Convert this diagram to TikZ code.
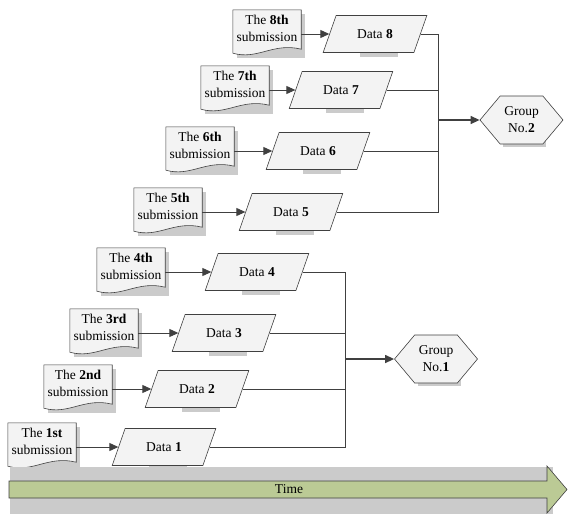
\documentclass[tikz,border=0pt]{standalone}
\usepackage{fontspec}
\setmainfont{Liberation Serif}
\usetikzlibrary{arrows.meta,shapes.geometric,shapes.symbols}

\definecolor{linegray}{HTML}{404040}
\definecolor{shadowgray}{HTML}{CBCBCB}
\definecolor{shapefill}{HTML}{F3F3F3}
\definecolor{timegreen}{HTML}{BBCA95}

\pgfdeclarelayer{shadowlayer}
\pgfdeclarelayer{outline}
\pgfsetlayers{shadowlayer,outline,main}

\tikzset{
  docbox/.style={minimum width=68pt, minimum height=36pt, inner sep=0pt, align=center},
  databox/.style={trapezium, trapezium left angle=66, trapezium right angle=114,
    trapezium stretches=true, minimum width=104pt, minimum height=37pt,
    draw=linegray, fill=shapefill, line width=0.6pt},
  groupbox/.style={signal, signal to=west and east, signal pointer angle=100,
    minimum width=83pt, minimum height=48pt, inner sep=0pt, align=center,
    draw=linegray, fill=shapefill, line width=0.6pt},
  boxshadow/.style={fill=shadowgray},
  flow/.style={draw=linegray, line width=0.9pt},
  flowarrow/.style={flow, -{Triangle[length=9pt,width=8pt]}}
}

\begin{document}
\begin{tikzpicture}[x=1pt,y=-1pt,font=\fontsize{13.5}{17}\selectfont]
\useasboundingbox (0,0) rectangle (569,514);

% submissions and their data
\foreach \n/\dx/\px/\y/\sfx in {8/267/375/34/th, 7/235/341/90/th, 6/200/318/151/th,
    5/168/291/212/th, 4/131/257/272/th, 3/104/224/333/rd, 2/78/197/389/nd, 1/42/164/447/st}{
  \node[docbox] (d\n) at (\dx,\y-6) {The \textbf{\n\sfx}\\submission};
  \node[databox] (p\n) at (\px,\y) {Data \textbf{\n}};
  \begin{pgfonlayer}{outline}
    \draw[draw=linegray, line width=0.6pt, fill=shapefill] (d\n.north west) -- (d\n.north east)
      -- ([yshift=-3pt]d\n.south east)
      .. controls ([xshift=-28pt,yshift=4pt]d\n.south east) and ([xshift=25pt,yshift=-14pt]d\n.south west)
      .. ([yshift=-7pt]d\n.south west) -- cycle;
  \end{pgfonlayer}
  \begin{pgfonlayer}{shadowlayer}
    \fill[boxshadow] ([shift={(4pt,-4pt)}]d\n.north west) rectangle ([shift={(4pt,-12pt)}]d\n.south east);
    \fill[boxshadow] ([shift={(4pt,-4pt)}]p\n.south west) rectangle ([shift={(4pt,-4pt)}]p\n.north east);
  \end{pgfonlayer}
  \draw[flowarrow] (d\n.east |- p\n.west) -- (p\n.west);
}

% groups
\node[groupbox] (g2) at (521.5,120) {Group\\No.\textbf{2}};
\node[groupbox] (g1) at (436,359) {Group\\No.\textbf{1}};
\begin{pgfonlayer}{shadowlayer}
  \foreach \g in {g1,g2}
    \fill[boxshadow] ([shift={(3pt,-3pt)}]\g.south west) rectangle ([shift={(3pt,-3pt)}]\g.north east);
\end{pgfonlayer}

\coordinate (j2) at (438,120);
\coordinate (j1) at (345,359);
\foreach \n in {5,...,8}
  \draw[flow] (p\n.east) -| (j2);
\foreach \n in {1,...,4}
  \draw[flow] (p\n.east) -| (j1);
\draw[flowarrow, line width=1.3pt] (j2) -- (g2.west);
\draw[flowarrow, line width=1.3pt] (j1) -- (g1.west);

% time line
\fill[boxshadow] (10,467) rectangle (553,514);
\draw[draw=linegray, line width=0.6pt, fill=timegreen] (9,481) -- (547,481) -- (547,466)
  -- (567,489.5) -- (547,513) -- (547,498) -- (9,498) -- cycle;
\node (time) at (289,489.5) {Time};
\end{tikzpicture}
\end{document}
